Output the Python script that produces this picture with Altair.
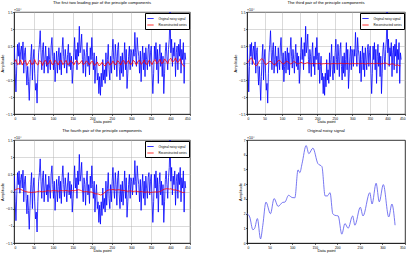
import altair as alt
import pandas as pd

FONT = "Liberation Sans"
SERIES = ["Original noisy signal", "Reconstructed series"]
COLORS = ["#0000ff", "#ff0000"]

# Noisy signal, sampled every second data point (x = 1, 3, ..., 439)
noisy_x = list(range(1, 441, 2))
noisy_y = [
    0.45, -0.3, -0.85, -0.1, 0.55, 0.2, 0.6, -0.05, 0.35, 0.5,
    0.1, 0.62, -0.3, 0.3, 0.45, -0.2, -0.65, -0.1, -0.55, -1.1,
    -0.4, 0.2, 0.55, -0.5, 0.1, 0.4, -0.3, -0.8, -0.6, -1.18,
    -0.3, 0.3, 0.55, 0.95, 0.3, -0.2, 0.4, 0.6, -0.3, 0.1,
    0.5, -0.1, 0.2, -0.3, 0.45, 0.1, -0.2, 0.5, 0.75, 0.2,
    -0.2, 0.3, -0.55, -0.1, 0.35, -0.3, 0.15, 0.45, -0.2, 0.3,
    -0.35, 0.4, 0.75, 0.2, -0.15, 0.4, 0.1, -0.3, 0.25, 0.55,
    -0.1, 0.3, -0.2, 0.2, -0.6, -0.2, 0.3, 0.75, 0.1, 0.4,
    -0.2, 0.6, 0.2, 1.08, 0.3, 0.5, 0.85, 0.1, -0.3, 0.4,
    0.2, -0.4, 0.3, 0.6, -0.1, 0.2, -0.35, 0.45, 0.1, 0.75,
    0.2, -0.2, 0.3, -0.6, -0.1, 0.2, -0.5, -0.3, -0.9, -0.4,
    -0.95, -0.3, -0.7, 0.1, -0.5, -0.2, -0.6, 0.3, -0.4, 0.1,
    0.55, -0.2, -0.5, 0.2, -0.3, 0.3, 0.7, 0.1, -0.2, 0.55,
    0.2, -0.4, 0.4, 0.6, -0.1, -0.5, 0.2, -0.3, 0.3, -0.4,
    0.1, 0.6, -0.2, 0.4, -0.75, -0.3, 0.2, 0.5, -0.2, 0.4,
    0.3, -0.1, 0.4, 0.2, 0.9, 0.3, -0.1, 0.75, 0.4, 0.2,
    -0.3, 0.35, -0.55, 0.1, 0.5, -0.2, 0.3, -0.4, 0.45, 0.1,
    -0.2, 0.4, 0.55, -0.1, 0.3, 0.5, -0.3, -0.9, -0.3, 0.5,
    0.1, 0.6, -0.2, 0.4, -0.6, 0.2, 0.55, -0.1, 0.3, -0.4,
    0.2, -0.9, -0.3, 0.35, 0.6, 0.2, -0.2, 0.4, 0.7, 1.5,
    0.3, 0.7, -0.1, 0.45, 0.2, 0.6, -0.4, 0.3, 0.5, -0.2,
    0.55, 0.2, 0.7, -0.3, 0.4, 0.1, 0.6, -0.6, 0.3, 0.1,
]

# Reconstructed series, every fourth data point (x = 1, 5, ..., 437)
rec_x = list(range(1, 441, 4))
rec_pair12 = [
    0.02, 0.1, -0.05, -0.02, 0.09, -0.06, 0.03, 0.08, -0.07, 0.01,
    0.09, -0.04, -0.03, 0.1, -0.02, -0.06, 0.07, 0.04, -0.07, 0.05,
    0.08, -0.05, 0.0, 0.09, -0.04, -0.04, 0.08, 0.02, -0.06, 0.06,
    0.07, -0.05, 0.01, 0.08, -0.05, -0.03, 0.07, 0.03, -0.06, 0.04,
    0.07, -0.04, 0.0, 0.07, -0.05, -0.02, 0.06, 0.02, -0.06, 0.03,
    0.05, -0.07, -0.04, 0.03, -0.08, -0.06, 0.02, -0.05, -0.09, 0.0,
    0.04, -0.06, -0.03, 0.06, -0.03, -0.05, 0.07, 0.02, -0.06, 0.06,
    0.07, -0.04, 0.01, 0.08, -0.04, -0.03, 0.08, 0.03, -0.06, 0.05,
    0.08, -0.04, 0.0, 0.09, -0.03, -0.04, 0.08, 0.04, -0.05, 0.06,
    0.1, -0.02, 0.02, 0.11, -0.01, 0.0, 0.12, 0.06, -0.02, 0.1,
    0.14, 0.03, 0.06, 0.15, 0.02, 0.04, 0.13, -0.02, -0.08, -0.1,
]
rec_pair3 = [
    0.0, 0.05, 0.12, 0.15, 0.06, -0.04, -0.08, -0.06, 0.02, 0.08,
    0.12, 0.11, 0.02, -0.05, -0.03, 0.02, 0.05, 0.04, -0.02, -0.05,
    -0.04, 0.02, 0.07, 0.08, 0.03, -0.02, -0.03, 0.02, 0.05, 0.03,
    -0.01, -0.03, 0.0, 0.04, 0.03, -0.01, -0.03, -0.01, 0.02, 0.01,
    -0.02, -0.02, 0.0, 0.01, -0.01, -0.02, -0.02, -0.01, -0.02, -0.02,
    -0.02, -0.01, -0.02, -0.03, -0.02, -0.02, -0.01, -0.02, -0.02, -0.03,
    -0.02, -0.02, -0.01, -0.02, -0.02, -0.02, -0.01, -0.01, -0.02, -0.02,
    -0.02, -0.01, -0.02, -0.03, -0.02, -0.01, -0.02, -0.02, -0.01, -0.02,
    -0.02, -0.02, -0.01, -0.02, -0.03, -0.02, -0.01, -0.02, -0.02, -0.01,
    -0.02, -0.02, -0.01, -0.01, -0.02, -0.03, -0.02, -0.01, 0.0, -0.01,
    -0.03, -0.05, -0.04, -0.02, -0.03, -0.06, -0.07, -0.05, -0.08, -0.08,
]
rec_pair4 = [
    0.03, 0.06, 0.08, 0.08, 0.06, 0.04, 0.02, 0.0, -0.01, -0.02,
    -0.02, -0.03, -0.02, -0.02, -0.01, 0.0, 0.01, 0.0, -0.01, 0.0,
    0.01, 0.02, 0.02, 0.01, 0.02, 0.03, 0.02, 0.02, 0.01, 0.02,
    0.03, 0.02, 0.02, 0.03, 0.02, 0.01, 0.02, 0.03, 0.02, 0.03,
    0.04, 0.05, 0.04, 0.02, 0.0, -0.01, 0.0, -0.01, -0.02, -0.01,
    -0.03, -0.05, -0.07, -0.07, -0.08, -0.1, -0.09, -0.06, -0.02, 0.02,
    0.04, 0.05, 0.05, 0.06, 0.05, 0.04, 0.05, 0.05, 0.04, 0.03,
    0.03, 0.02, 0.01, 0.01, 0.02, 0.01, 0.0, 0.01, 0.01, 0.0,
    -0.01, 0.0, -0.01, -0.02, -0.02, -0.01, -0.02, -0.03, -0.02, -0.02,
    -0.01, -0.02, -0.01, 0.0, 0.02, 0.05, 0.07, 0.08, 0.08, 0.07,
    0.08, 0.06, 0.04, 0.05, 0.03, 0.02, 0.0, -0.02, -0.03, -0.02,
]

# Original signal (smooth curve)
orig_x = [0, 6, 13, 17, 23, 30, 35, 42, 52, 60, 69, 79, 84, 92, 100, 106,
          113, 117, 122, 131, 137, 146, 157, 166, 173, 178, 184, 190, 195,
          202, 210, 217, 224, 234, 239, 251, 257, 272, 277, 286, 293, 302,
          314, 321, 328]
orig_y = [1.99, 1.77, 0.9, 1.0, 1.66, 0.28, 1.2, 2.78, 1.99, 3.02, 2.49,
          2.76, 2.78, 3.24, 3.09, 3.07, 4.97, 4.78, 5.4, 6.62, 6.07, 6.45,
          5.4, 5.19, 3.2, 3.2, 3.42, 1.99, 1.88, 1.84, 0.6, 1.32, 1.0, 1.84,
          1.21, 2.43, 1.84, 3.42, 2.65, 4.06, 2.8, 3.97, 1.77, 2.65, 1.21]

X_TICKS = list(range(0, 451, 50))
Y_TICKS = [-1.5, -1, -0.5, 0, 0.5, 1, 1.5]


def exponent_label():
    return alt.Chart(pd.DataFrame({"t": ["\u00d710\u2074"]})).mark_text(
        font=FONT, fontSize=3.5, align="left", baseline="bottom"
    ).encode(text="t:N", x=alt.value(0), y=alt.value(-0.5))


def pair_panel(rec_y, title, width, height):
    df = pd.concat([
        pd.DataFrame({"x": noisy_x, "y": noisy_y, "series": SERIES[0]}),
        pd.DataFrame({"x": rec_x, "y": rec_y, "series": SERIES[1]}),
    ])
    lines = alt.Chart(df).mark_line(strokeWidth=0.8, clip=True).encode(
        x=alt.X("x:Q", scale=alt.Scale(domain=[0, 450], nice=False, zero=False),
                axis=alt.Axis(values=X_TICKS, title="Data point")),
        y=alt.Y("y:Q", scale=alt.Scale(domain=[-1.5, 1.5], nice=False),
                axis=alt.Axis(values=Y_TICKS, format="~g", title="Amplitude")),
        color=alt.Color(
            "series:N",
            scale=alt.Scale(domain=SERIES, range=COLORS),
            legend=alt.Legend(
                title=None, orient="top-right", offset=1, padding=1.5,
                fillColor="white", strokeColor="black",
                labelFont=FONT, labelFontSize=3, labelLimit=80,
                symbolType="stroke", symbolStrokeWidth=0.8, symbolSize=40,
                rowPadding=0.5, columnPadding=1,
            ),
        ),
    )
    return alt.layer(lines, exponent_label()).properties(
        width=width, height=height, title=title
    )


def original_panel(width, height):
    df = pd.DataFrame({"x": orig_x, "y": orig_y})
    line = alt.Chart(df).mark_line(
        strokeWidth=0.8, color="#5555ee", interpolate="monotone"
    ).encode(
        x=alt.X("x:Q", scale=alt.Scale(domain=[0, 350], nice=False),
                axis=alt.Axis(values=list(range(0, 351, 50)), grid=False,
                              title="Data point")),
        y=alt.Y("y:Q", scale=alt.Scale(domain=[0, 7], nice=False),
                axis=alt.Axis(values=list(range(0, 8)), grid=False,
                              title="Amplitude")),
    )
    return alt.layer(line, exponent_label()).properties(
        width=width, height=height, title="Original noisy signal"
    )


p1 = pair_panel(rec_pair12, "The first two leading pair of the principle components", 176, 102)
p2 = pair_panel(rec_pair3, "The third pair of the principle components", 158, 102)
p3 = pair_panel(rec_pair4, "The fourth pair of the principle components", 176, 103)
p4 = original_panel(158, 103)

chart = alt.concat(
    p1, p2, p3, p4, columns=2, spacing={"row": 26, "column": 57}, bounds="flush"
).resolve_legend(color="independent").properties(
    padding={"left": 0, "top": 0, "right": 0, "bottom": 0}
).configure(
    font=FONT, background="white"
).configure_axis(
    labelFont=FONT, titleFont=FONT, labelFontSize=3.3, titleFontSize=4,
    titleFontWeight="normal", labelColor="black", titleColor="black",
    tickSize=1.5, tickColor="black", tickWidth=0.6, labelPadding=0.5,
    titlePadding=0.5, domainColor="black", domainWidth=0.6,
    gridColor="#b4b4b4", gridWidth=0.5,
).configure_view(
    stroke="black", strokeWidth=0.8
).configure_title(
    font=FONT, fontSize=4.2, fontWeight="normal", offset=2, color="black"
)

chart.save("out.html", embed_options={"renderer": "svg", "actions": False})
